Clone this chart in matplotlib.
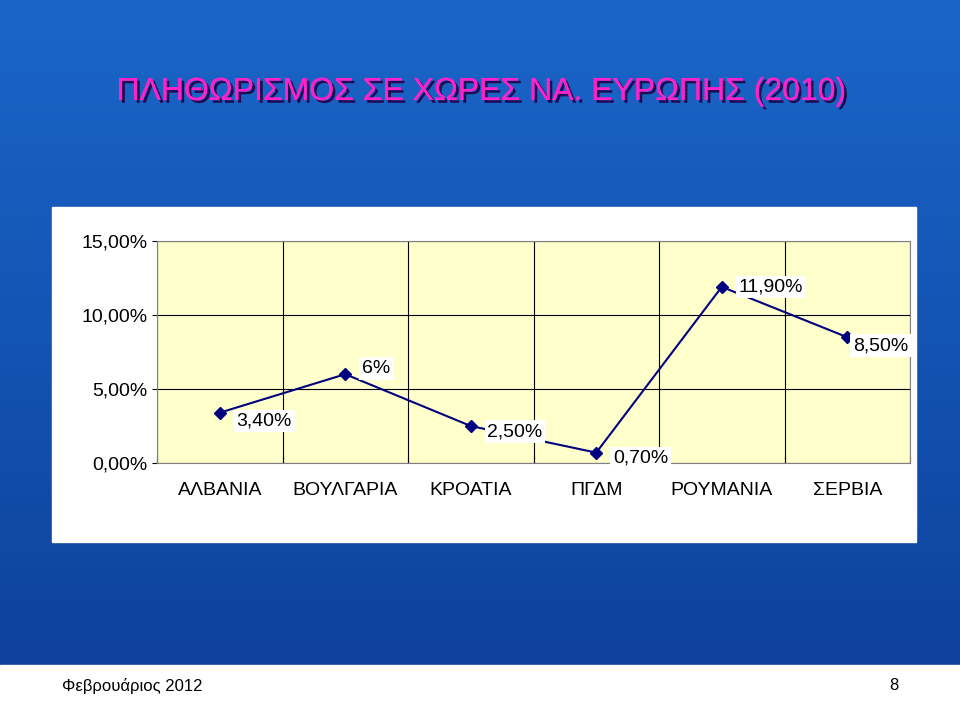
import matplotlib.pyplot as plt
import matplotlib.patheffects as pe
import numpy as np

countries = ["ΑΛΒΑΝΙΑ", "ΒΟΥΛΓΑΡΙΑ", "ΚΡΟΑΤΙΑ", "ΠΓΔΜ", "ΡΟΥΜΑΝΙΑ", "ΣΕΡΒΙΑ"]
values = [3.4, 6.0, 2.5, 0.7, 11.9, 8.5]
labels = ["3,40%", "6%", "2,50%", "0,70%", "11,90%", "8,50%"]
yticks = [0, 5, 10, 15]
ytick_labels = ["0,00%", "5,00%", "10,00%", "15,00%"]

W, H = 960, 716
fam = "Liberation Sans"
fig = plt.figure(figsize=(W / 100, H / 100), dpi=100)

# slide background gradient
bg = fig.add_axes([0, 0, 1, 1])
grad = np.linspace(0, 1, 256).reshape(-1, 1)
bg.imshow(grad, extent=[0, 1, 0, 1], aspect="auto", cmap=plt.matplotlib.colors.LinearSegmentedColormap.from_list("b", ["#1a66c8", "#0d3f9a"]))
bg.add_patch(plt.Rectangle((0, 0), 1, 51 / H, color="white"))
bg.add_patch(plt.Rectangle((52 / W, 1 - 542 / H), 864 / W, 335 / H, color="white"))
bg.set_xlim(0, 1); bg.set_ylim(0, 1); bg.axis("off")
bg.text(482 / W, 1 - 92 / H, "ΠΛΗΘΩΡΙΣΜΟΣ ΣΕ ΧΩΡΕΣ ΝΑ. ΕΥΡΩΠΗΣ (2010)", color="#ff22cc",
        fontsize=23, ha="center", va="center", family=fam,
        path_effects=[pe.withSimplePatchShadow(offset=(2, -2), shadow_rgbFace="#220044", alpha=0.9), pe.Normal()])
bg.text(62 / W, 1 - 686 / H, "Φεβρουάριος 2012", fontsize=12, va="center", family=fam)
bg.text(898 / W, 1 - 686 / H, "8", fontsize=12, va="center", ha="right", family=fam)

ax = fig.add_axes([157 / W, 1 - 463 / H, 753 / W, 222 / H])
ax.set_facecolor("#ffffcc")
x = np.arange(len(countries))
ax.plot(x, values, color="#000080", lw=1.5, marker="D", ms=6, mfc="#000080")
ax.set_xlim(-0.5, len(countries) - 0.5)
ax.set_ylim(0, 15)
ax.set_yticks(yticks)
ax.set_yticklabels(ytick_labels, family=fam, fontsize=14)
ax.set_xticks(np.arange(-0.5, len(countries), 1))
ax.set_xticklabels([])
ax.set_xticks(x, minor=True)
ax.set_xticklabels(countries, minor=True, family=fam, fontsize=14)
ax.tick_params(axis="x", which="minor", length=0, pad=14)
ax.tick_params(axis="x", which="major", length=5, direction="in")
ax.grid(True, which="major", color="black", lw=0.8)
for s in ax.spines.values():
    s.set_color("gray")
offs = [(12, -6), (12, 4), (12, -4), (12, -4), (12, 0), (4, -6)]
for xi, v, t, (dx, dy) in zip(x, values, labels, offs):
    ax.annotate(t, (xi, v), xytext=(dx, dy), textcoords="offset points", ha="left", va="center",
                fontsize=14, family=fam, bbox=dict(fc="white", ec="none", pad=2))
fig.savefig("out.png", dpi=100)
